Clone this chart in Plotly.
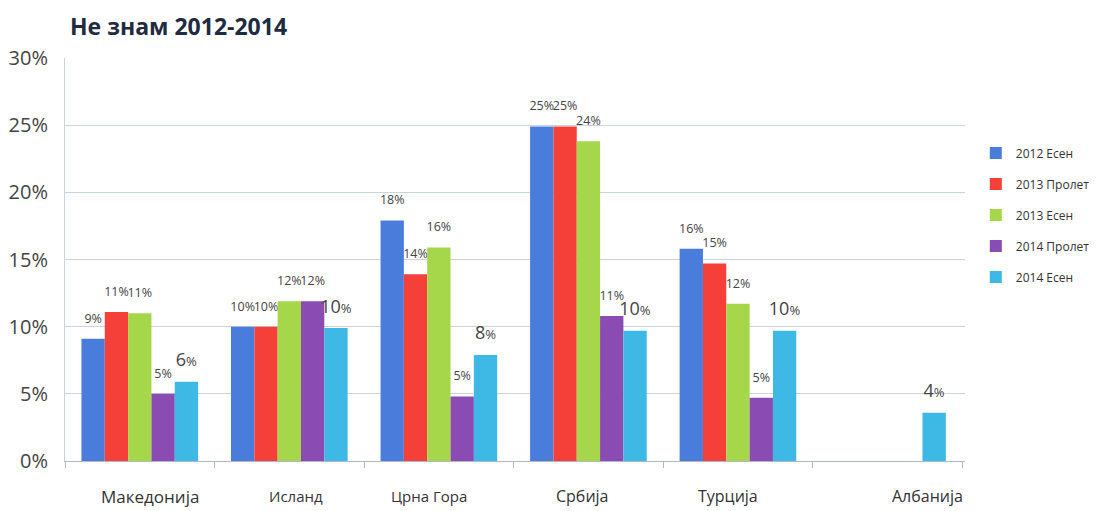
import plotly.graph_objects as go

categories = ["Македонија", "Исланд", "Црна Гора", "Србија", "Турција", "Албанија"]
series_names = ["2012 Есен", "2013 Пролет", "2013 Есен", "2014 Пролет", "2014 Есен"]
values_2012_esen = [9.1, 10.0, 17.9, 24.9, 15.8, None]
values_2013_prolet = [11.1, 10.0, 13.9, 24.9, 14.7, None]
values_2013_esen = [11.0, 11.9, 15.9, 23.8, 11.7, None]
values_2014_prolet = [5.0, 11.9, 4.8, 10.8, 4.7, None]
values_2014_esen = [5.9, 9.9, 7.9, 9.7, 9.7, 3.6]
labels_2012_esen = ["9", "10", "18", "25", "16", ""]
labels_2013_prolet = ["11", "10", "14", "25", "15", ""]
labels_2013_esen = ["11", "12", "16", "24", "12", ""]
labels_2014_prolet = ["5", "12", "5", "11", "5", ""]
labels_2014_esen = ["6", "10", "8", "10", "10", "4"]
y_ticks = [0, 5, 10, 15, 20, 25, 30]
y_tick_labels = ["0%", "5%", "10%", "15%", "20%", "25%", "30%"]

# label styling (layout only)
cat_label_shift = [10, 7, -10, -6, -10, 40]
cat_label_size = [17, 15, 15, 16, 16, 16]

colors = ["#4A7DDB", "#F5403A", "#A6D74B", "#8A4BB2", "#3EB9E6"]
all_values = [values_2012_esen, values_2013_prolet, values_2013_esen, values_2014_prolet, values_2014_esen]
all_labels = [labels_2012_esen, labels_2013_prolet, labels_2013_esen, labels_2014_prolet, labels_2014_esen]

FONT = "Open Sans"
W, H = 1089, 503  # page adds an 8px body margin

fig = go.Figure()
for i, (name, vals, labs, col) in enumerate(zip(series_names, all_values, all_labels, colors)):
    big = (i == 4)
    if big:
        tmpl = ("<span style='font-size:18px'>%{text}</span>"
                "<span style='font-size:13px'>%</span><br> ")
        base = 8
    else:
        tmpl = "<span style='font-size:12.5px'>%{text}%</span><br> "
        base = 8.5
    fig.add_trace(go.Bar(
        x=categories, y=vals, name=name, marker_color=col, marker_line_width=0,
        text=labs, texttemplate=tmpl, textposition="outside",
        textfont=dict(family=FONT, size=base, color="#444444"),
        constraintext="none", cliponaxis=False, legendgroup=name,
    ))

for cat, dx, sz in zip(categories, cat_label_shift, cat_label_size):
    fig.add_annotation(x=cat, y=0, xref="x", yref="y", text=cat, showarrow=False,
                       xshift=dx, yshift=-35, xanchor="center", yanchor="middle",
                       font=dict(family=FONT, size=sz, color="#333333"))

fig.update_layout(
    width=W, height=H,
    margin=dict(l=57, r=132, t=50, b=50, autoexpand=False),
    paper_bgcolor="white", plot_bgcolor="white",
    barmode="group", bargap=0.22, bargroupgap=0,
    title=dict(text="<b>Не знам 2012-2014</b>", x=62/W, xref="container", xanchor="left",
               y=1-19/H, yref="container", yanchor="middle",
               font=dict(family=FONT, size=23, color="#1E2B40")),
    legend=dict(x=1.012, y=0.80, xanchor="left", yanchor="top",
                font=dict(family=FONT, size=12, color="#333333"),
                tracegroupgap=12, itemwidth=30, bgcolor="rgba(0,0,0,0)"),
    font=dict(family=FONT),
    showlegend=True,
)
fig.update_yaxes(range=[0, 30], tickvals=y_ticks, ticktext=y_tick_labels,
                 tickfont=dict(family=FONT, size=20, color="#444444"),
                 showgrid=True, gridcolor="#C9D3E6", gridwidth=1,
                 showline=True, linecolor="#C9D3E6", zeroline=False, ticks="",
                 automargin=False, ticklabelstandoff=12)
fig.update_xaxes(showticklabels=False,
                 showline=True, linecolor="#B0B8C8", tickson="boundaries",
                 ticks="outside", ticklen=6, tickcolor="#B0B8C8",
                 automargin=False)

fig.write_html("out.html")
